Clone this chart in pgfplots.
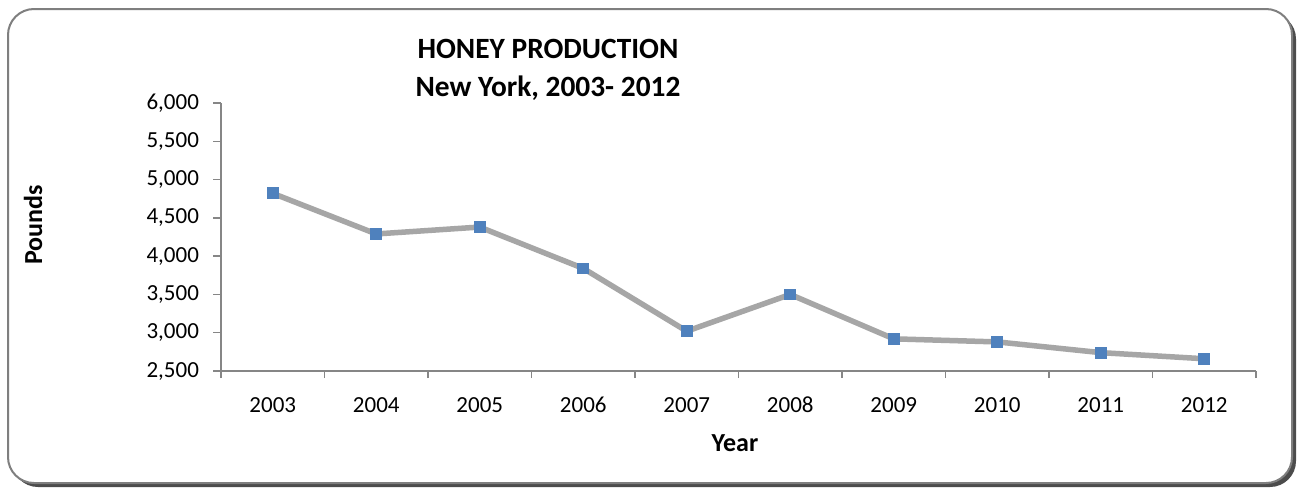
\documentclass[border=0pt]{standalone}
\usepackage{pgfplots}
\pgfplotsset{compat=1.18}
\usepackage{fontspec}
\setmainfont{Carlito}
\definecolor{linegray}{HTML}{A6A6A6}
\definecolor{markblue}{HTML}{4F81BD}
\definecolor{axisgray}{HTML}{868686}
\definecolor{framegray}{HTML}{7F7F7F}
\begin{document}
\begin{tikzpicture}[x=0.5pt,y=0.5pt]
\useasboundingbox (0,0) rectangle (1299,489);
% frame with shadow
\fill[black!70, rounded corners=13pt] (12,2) rectangle (1296,476);
\draw[framegray, line width=1pt, fill=white, rounded corners=13pt] (8,6) rectangle (1292,480);
\begin{axis}[
  at={(110.5pt,59pt)}, anchor=south west,
  scale only axis, width=517.5pt, height=134pt,
  xmin=0.5, xmax=10.5, ymin=2500, ymax=6000,
  axis lines*=left,
  axis line style={axisgray, line width=0.7pt},
  xtick={1,2,3,4,5,6,7,8,9,10},
  xticklabels={2003,2004,2005,2006,2007,2008,2009,2010,2011,2012},
  major x tick style={draw=none},
  minor xtick={0.5,1.5,...,10.5},
  ytick={2500,3000,...,6000},
  tick align=outside,
  major tick length=4pt, minor tick length=3.5pt,
  every tick/.style={axisgray, line width=0.7pt},
  scaled y ticks=false,
  /pgf/number format/1000 sep={,},
  /pgf/number format/assume math mode=true,
  ticklabel style={font=\fontsize{11.5}{13}\selectfont},
  yticklabel style={xshift=-3.5pt},
  xticklabel style={yshift=-5.5pt, text height=7.5pt, text depth=0pt},
  clip=false,
]
\addplot[linegray, line width=2.75pt, mark=square*, mark size=2.7pt,
  mark options={fill=markblue, draw=markblue, line width=0pt}]
  coordinates {
  (1,4820) (2,4290) (3,4380) (4,3840) (5,3020)
  (6,3500) (7,2920) (8,2880) (9,2740) (10,2660)
  };
\end{axis}
\node[font=\bfseries\fontsize{14.7}{17}\selectfont] at (548,440) {HONEY PRODUCTION};
\node[font=\bfseries\fontsize{14.7}{17}\selectfont] at (548,401) {New York, 2003- 2012};
\node[font=\bfseries\fontsize{13}{15}\selectfont] at (735,46) {Year};
\node[font=\bfseries\fontsize{13}{15}\selectfont, rotate=90] at (33,264) {Pounds};
\end{tikzpicture}
\end{document}
